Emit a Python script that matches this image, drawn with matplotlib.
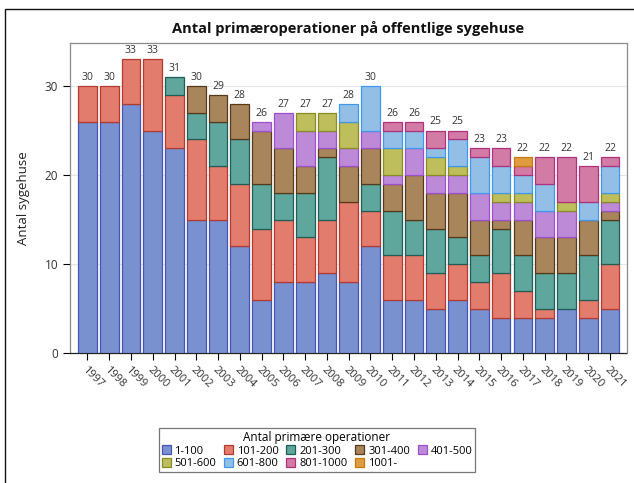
import matplotlib
matplotlib.use("Agg")
import matplotlib.pyplot as plt
from matplotlib.patches import Patch, Rectangle
import numpy as np

years = [str(y) for y in range(1997, 2022)]
groups = ["1-100", "101-200", "201-300", "301-400", "401-500",
          "501-600", "601-800", "801-1000", "1001-"]

g_1_100    = [26, 26, 28, 25, 23, 15, 15, 12, 6, 8, 8, 9, 8, 12, 6, 6, 5, 6, 5, 4, 4, 4, 5, 4, 5]
g_101_200  = [4, 4, 5, 8, 6, 9, 6, 7, 8, 7, 5, 6, 9, 4, 5, 5, 4, 4, 3, 5, 3, 1, 0, 2, 5]
g_201_300  = [0, 0, 0, 0, 2, 3, 5, 5, 5, 3, 5, 7, 0, 3, 5, 4, 5, 3, 3, 5, 4, 4, 4, 5, 5]
g_301_400  = [0, 0, 0, 0, 0, 3, 3, 4, 6, 5, 3, 1, 4, 4, 3, 5, 4, 5, 4, 1, 4, 4, 4, 4, 1]
g_401_500  = [0, 0, 0, 0, 0, 0, 0, 0, 1, 4, 4, 2, 2, 2, 1, 3, 2, 2, 3, 2, 2, 3, 3, 0, 1]
g_501_600  = [0, 0, 0, 0, 0, 0, 0, 0, 0, 0, 2, 2, 3, 0, 3, 0, 2, 1, 0, 1, 1, 0, 1, 0, 1]
g_601_800  = [0, 0, 0, 0, 0, 0, 0, 0, 0, 0, 0, 0, 2, 5, 2, 2, 1, 3, 4, 3, 2, 3, 0, 2, 3]
g_801_1000 = [0, 0, 0, 0, 0, 0, 0, 0, 0, 0, 0, 0, 0, 0, 1, 1, 2, 1, 1, 2, 1, 3, 5, 4, 1]
g_1001     = [0, 0, 0, 0, 0, 0, 0, 0, 0, 0, 0, 0, 0, 0, 0, 0, 0, 0, 0, 0, 1, 0, 0, 0, 0]

series = [g_1_100, g_101_200, g_201_300, g_301_400, g_401_500,
          g_501_600, g_601_800, g_801_1000, g_1001]

fills = ["#7A91CF", "#E27C6C", "#5FA69D", "#A9855B", "#BC8AD6",
         "#BEBE5C", "#93BEE6", "#D27BA5", "#DF9C3E"]
edges = ["#4455B8", "#B43A30", "#1E5E56", "#55391A", "#9D4FCF",
         "#868E22", "#3E98EE", "#B0307A", "#C87A10"]

plt.rcParams['font.family'] = ['Open Sans', 'DejaVu Sans']

fig = plt.figure(figsize=(6.34, 4.83), dpi=100)
ax = fig.add_axes([70/634, 1 - 353.3/483, (626.5-70)/634, (353.3-42.7)/483])

x = np.arange(len(years))
bottom = np.zeros(len(years))
for vals, fc, ec in zip(series, fills, edges):
    v = np.array(vals, dtype=float)
    mask = v > 0
    ax.bar(x[mask], v[mask], bottom=bottom[mask], width=0.86,
           color=fc, edgecolor=ec, linewidth=0.9, zorder=3)
    bottom += v

for xi, tot in zip(x, bottom):
    ax.text(xi, tot + 0.35, f"{int(tot)}", ha="center", va="bottom",
            fontsize=7.5, color="#333333", zorder=4)

ax.set_xlim(-0.8, 24.76)
ax.set_ylim(0, 34.86)
ax.set_yticks([0, 10, 20, 30])
ax.set_xticks(x)
ax.set_xticklabels(years, rotation=-45, ha="left", va="top",
                   rotation_mode="anchor", fontsize=8, color="#333333")
ax.tick_params(axis="y", labelsize=8.5, labelcolor="#333333", length=5, width=0.8)
ax.tick_params(axis="x", length=5, width=0.8, pad=3)
ax.yaxis.grid(True, color="#E4E4E4", linewidth=0.8, zorder=0)
ax.set_axisbelow(True)
for s in ["left", "top", "right"]:
    ax.spines[s].set_color("#8A8A8A")
    ax.spines[s].set_linewidth(0.9)
ax.spines["bottom"].set_color("#222222")
ax.spines["bottom"].set_linewidth(0.9)

ax.set_ylabel("Antal sygehuse", fontsize=9.5, color="#222222")
ax.yaxis.set_label_coords(-0.072, 0.5)

fig.text(0.5 * (70 + 626.5) / 634, 1 - 28 / 483,
         "Antal primæroperationer på offentlige sygehuse",
         ha="center", va="center", fontsize=10.5, fontweight="bold", color="#111111")

handles = [Patch(facecolor=fc, edgecolor=ec, linewidth=0.9, label=g)
           for g, fc, ec in zip(groups, fills, edges)]
order = [0, 5, 1, 6, 2, 7, 3, 8, 4]
leg = fig.legend([handles[i] for i in order], [groups[i] for i in order],
                 ncol=5, loc="center", bbox_to_anchor=(317/634, 1 - 450/483),
                 title="Antal primære operationer", fontsize=8, title_fontsize=8.5,
                 frameon=True, fancybox=False, edgecolor="#555555",
                 handlelength=0.8, handleheight=0.8, handletextpad=0.35,
                 columnspacing=0.7, labelspacing=0.15, borderpad=0.25,
                 borderaxespad=0)
leg.get_frame().set_linewidth(0.9)

fig.add_artist(Rectangle((5/634, -0.05), 1.2, 1 - 9/483 + 0.05,
                         transform=fig.transFigure, fill=False,
                         edgecolor="#111111", linewidth=1.0))

fig.savefig("out.png", dpi=100)
